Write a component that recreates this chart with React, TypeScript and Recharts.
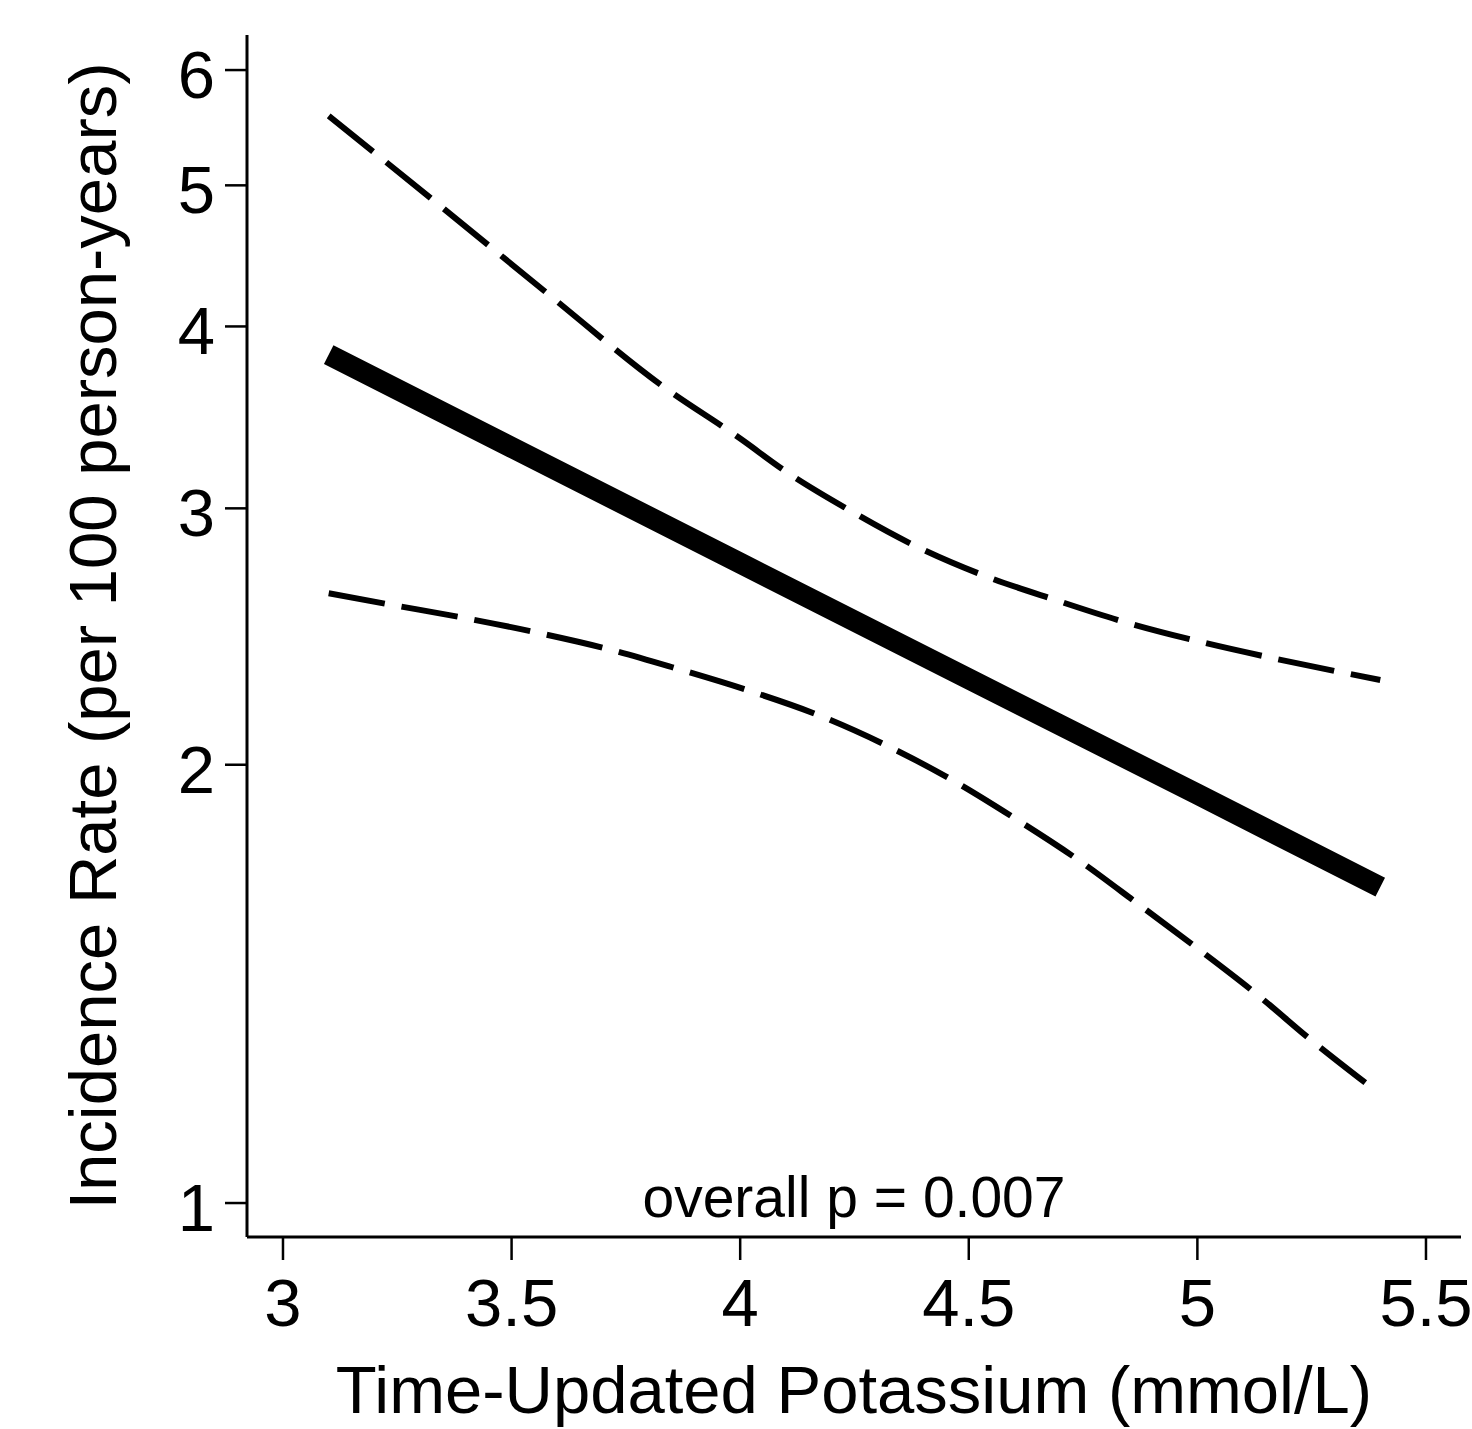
import React from "react";
import { LineChart, Line, XAxis, YAxis } from "recharts";

// ---- data ----
const fitX = [3.1, 3.5, 4.0, 4.5, 5.0, 5.4];
const fitY = [3.825, 3.304, 2.751, 2.291, 1.909, 1.648];

const upperX = [3.1, 3.33, 3.58, 3.83, 4.0, 4.1, 4.24, 4.38, 4.53, 4.69, 4.84, 5.0, 5.16, 5.4];
const upperY = [5.58, 4.88, 4.21, 3.64, 3.35, 3.18, 2.99, 2.83, 2.7, 2.595, 2.507, 2.432, 2.369, 2.287];

const lowerX = [3.1, 3.23, 3.39, 3.55, 3.71, 3.86, 4.02, 4.17, 4.32, 4.46, 4.6, 4.74, 4.87, 5.0, 5.13, 5.25, 5.38];
const lowerY = [2.623, 2.578, 2.525, 2.467, 2.402, 2.329, 2.248, 2.164, 2.062, 1.955, 1.838, 1.72, 1.605, 1.496, 1.391, 1.293, 1.201];

const xTicks = [3, 3.5, 4, 4.5, 5, 5.5];
const yTicks = [1, 2, 3, 4, 5, 6];

const xTitle = "Time-Updated Potassium (mmol/L)";
const yTitle = "Incidence Rate (per 100 person-years)";
const note = "overall p = 0.007";

const toPts = (xs: number[], ys: number[]) => xs.map((x, i) => ({ x, y: ys[i] }));
const fitData = toPts(fitX, fitY);
const upperData = toPts(upperX, upperY);
const lowerData = toPts(lowerX, lowerY);

const FONT = "'Liberation Sans', Arial, Helvetica, sans-serif";

const W = 1472;
const H = 1429;
const M = { top: 35, right: 11, bottom: 0, left: 0 };
const Y_W = 247;
const X_H = 192;

const YTick = (props: any) => {
  const { x, y, payload } = props;
  return (
    <text x={x - 10} y={y} dy={28} textAnchor="end" fontFamily={FONT} fontSize={67} fill="#000">
      {String(payload.value)}
    </text>
  );
};

const XTick = (props: any) => {
  const { x, y, payload } = props;
  return (
    <text x={x} y={y} dy={66} textAnchor="middle" fontFamily={FONT} fontSize={67} fill="#000">
      {String(payload.value)}
    </text>
  );
};

const XTitle = (props: any) => {
  const vb = props.viewBox || {};
  const cx = vb.x + vb.width / 2;
  return (
    <g>
      <text x={cx} y={vb.y + 176} textAnchor="middle" fontFamily={FONT} fontSize={67} fill="#000">
        {xTitle}
      </text>
      <text x={cx} y={vb.y - 20} textAnchor="middle" fontFamily={FONT} fontSize={57} fill="#000">
        {note}
      </text>
    </g>
  );
};

const YTitle = (props: any) => {
  const vb = props.viewBox || {};
  const tx = vb.x + 116;
  const ty = vb.y + vb.height / 2;
  return (
    <text
      x={tx}
      y={ty}
      transform={`rotate(-90, ${tx}, ${ty})`}
      textAnchor="middle"
      fontFamily={FONT}
      fontSize={67}
      fill="#000"
    >
      {yTitle}
    </text>
  );
};

export default function App() {
  return (
    <div style={{ position: "absolute", left: 0, top: 0, width: W, height: H, background: "#fff" }}>
      <LineChart width={W} height={H} margin={M}>
        <XAxis
          type="number"
          dataKey="x"
          domain={[2.9213, 5.5766]}
          allowDataOverflow
          ticks={xTicks}
          height={X_H}
          tickSize={23}
          tickMargin={0}
          tick={<XTick />}
          axisLine={{ stroke: "#000", strokeWidth: 3 }}
          tickLine={{ stroke: "#000", strokeWidth: 2.5 }}
          label={<XTitle />}
        />
        <YAxis
          type="number"
          dataKey="y"
          scale="log"
          domain={[0.9477, 6.342]}
          allowDataOverflow
          ticks={yTicks}
          width={Y_W}
          tickSize={22}
          tickMargin={0}
          tick={<YTick />}
          axisLine={{ stroke: "#000", strokeWidth: 3 }}
          tickLine={{ stroke: "#000", strokeWidth: 2.5 }}
          label={<YTitle />}
        />
        <Line
          data={upperData}
          dataKey="y"
          type="monotone"
          stroke="#000"
          strokeWidth={6}
          strokeDasharray="57 17"
          dot={false}
          activeDot={false}
          isAnimationActive={false}
        />
        <Line
          data={lowerData}
          dataKey="y"
          type="monotone"
          stroke="#000"
          strokeWidth={6}
          strokeDasharray="57 17"
          dot={false}
          activeDot={false}
          isAnimationActive={false}
        />
        <Line
          data={fitData}
          dataKey="y"
          type="linear"
          stroke="#000"
          strokeWidth={21}
          dot={false}
          activeDot={false}
          isAnimationActive={false}
        />
      </LineChart>
    </div>
  );
}
